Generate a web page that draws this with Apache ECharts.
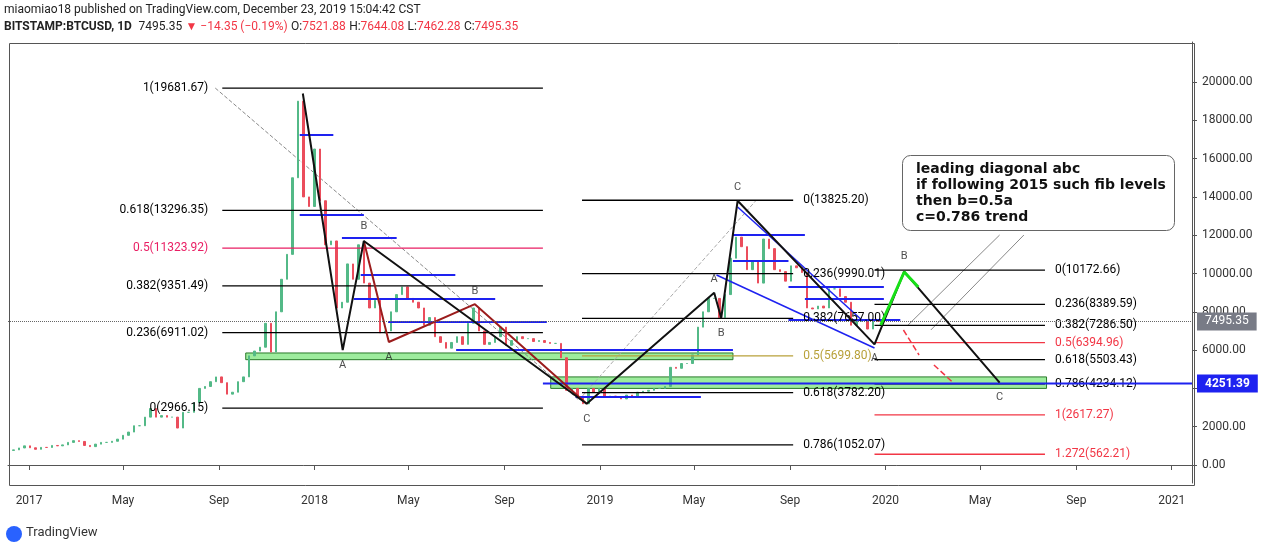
<!DOCTYPE html>
<html>
<head>
<meta charset="utf-8">
<script src="https://cdn.jsdelivr.net/npm/echarts@6/dist/echarts.min.js"></script>
<style>html,body{margin:0;padding:0;background:#fff}#chart{width:1265px;height:552px}</style>
</head>
<body>
<div id="chart"></div>
<script>
'use strict';

// weekly closes, first week 2016-12-05
var weekStart = '2016-12-05';
var weeklyClose = [760, 790, 890, 1000, 900, 820, 920, 915, 1020, 1000, 1050, 1180, 1270, 1230, 1020, 960,
	1090, 1180, 1180, 1240, 1350, 1550, 1720, 2050, 2050, 2500, 2950, 2500, 2580, 2500, 2500, 1930, 2750, 2750,
	3250, 4000, 4100, 4350, 4600, 4300, 3700, 3800, 4350, 4600, 5700, 5950, 6150, 7400, 5900, 8000, 9700, 11000,
	15000, 19000, 14000, 13500, 16500, 13800, 11500, 11700, 8200, 8500, 10500, 9700, 11500, 9500, 8200, 8600,
	6900, 7000, 8000, 8900, 9300, 8700, 8500, 8200, 7300, 7700, 6700, 6400, 6100, 6400, 6700, 6300, 7400, 8200,
	7000, 6300, 6400, 6700, 7200, 6250, 6500, 6700, 6600, 6600, 6450, 6500, 6400, 6350, 6350, 5600, 3900, 4000,
	3600, 3200, 4000, 3800, 4000, 3550, 3600, 3550, 3450, 3650, 3600, 3800, 3850, 3900, 4000, 4000, 4100, 5100,
	5050, 5300, 5300, 5750, 7200, 8000, 8700, 8700, 7700, 8900, 10800, 11900, 11400, 10200, 10600, 9500, 11800,
	11300, 10200, 10100, 9600, 10400, 10300, 10050, 8200, 8150, 8300, 8200, 9200, 9200, 8800, 8500, 7300, 7500,
	7500, 7100, 7500, 7495];

var yTicks = [0, 2000, 4000, 6000, 8000, 10000, 12000, 14000, 16000, 18000, 20000];
var xTickDates = ['2017-01-01', '2017-05-01', '2017-09-01', '2018-01-01', '2018-05-01', '2018-09-01',
	'2019-01-01', '2019-05-01', '2019-09-01', '2020-01-01', '2020-05-01', '2020-09-01', '2021-01-01'];

// fib sets: [label, price]
var fibLeft = [['1', 19681.67], ['0.618', 13296.35], ['0.5', 11323.92], ['0.382', 9351.49], ['0.236', 6911.02], ['0', 2966.15]];
var fibLeftSpan = ['2017-09-05', '2018-10-20'];
var fibMid = [['0', 13825.20], ['0.236', 9990.01], ['0.382', 7657.00], ['0.5', 5699.80], ['0.618', 3782.20], ['0.786', 1052.07]];
var fibMidSpan = ['2018-12-09', '2019-09-05'];
var fibRight = [['0', 10172.66], ['0.236', 8389.59], ['0.382', 7286.50], ['0.5', 6394.96], ['0.618', 5503.43],
	['0.786', 4234.12], ['1', 2617.27], ['1.272', 562.21]];
var fibRightSpan = ['2019-12-18', '2020-07-23'];

var wavePath = [['2017-12-17', 19400], ['2018-02-06', 6000], ['2018-03-05', 11700], ['2018-12-15', 3200],
	['2019-05-27', 9000], ['2019-06-05', 7676], ['2019-06-26', 13800], ['2019-12-18', 6300],
	['2020-01-25', 10100], ['2020-05-26', 4300]];
var redPath = [['2018-03-05', 11700], ['2018-04-06', 6423], ['2018-07-25', 8400], ['2018-12-15', 3200]];
var greenPath = [['2019-12-26', 7311], ['2020-01-25', 10078], ['2020-02-12', 9300]];
var redArrow1 = [['2020-01-24', 7050], ['2020-02-13', 5744]];
var redArrow2 = [['2020-03-03', 5222], ['2020-03-28', 4282]];
var dashed1 = [['2017-08-27', 19686], ['2018-12-05', 3394]];
var dashed2 = [['2018-12-05', 3394], ['2019-07-20', 13838]];
var pointers = [[['2020-05-26', 12010], ['2020-01-30', 7311]], [['2020-06-26', 12010], ['2020-02-28', 7050]]];
var channel = [[['2019-05-30', 9922], ['2019-12-18', 6110]], [['2019-06-26', 13473], ['2019-12-01', 7600]]];
var blueLevels = [['2017-12-13', '2018-01-25', 17232], ['2017-12-13', '2018-03-05', 13055], ['2018-02-05', '2018-04-16', 11854],
	['2018-03-01', '2018-06-30', 9922], ['2018-02-20', '2018-08-20', 8668], ['2018-04-05', '2018-10-25', 7467],
	['2018-07-01', '2019-06-20', 6005], ['2018-12-01', '2019-05-10', 3551], ['2019-06-20', '2019-09-20', 12010],
	['2019-06-20', '2019-08-30', 10653], ['2019-08-30', '2019-12-30', 9295], ['2019-09-20', '2019-12-30', 8668],
	['2019-08-30', '2020-01-20', 7572]];
var greenBoxes = [['2017-10-05', '2019-06-20', 5500, 5850], ['2018-10-30', '2020-07-25', 4000, 4600]];
var waveLabels = [['C', '2019-06-26', 14500], ['B', '2018-03-05', 12480], ['A', '2018-02-06', 5222], ['A', '2018-04-06', 5650],
	['B', '2018-07-25', 9050], ['C', '2018-12-15', 2400], ['A', '2019-05-27', 9700], ['B', '2019-06-05', 6900],
	['B', '2020-01-25', 10900], ['A', '2019-12-18', 5600], ['C', '2020-05-26', 3550]];
var lastPrice = 7495.35;
var bluePrice = 4251.39;

function ts(s) { return +new Date(s + 'T00:00:00Z'); }
function addDays(s, n) { return ts(s) + n * 86400000; }
function pts(arr) { return arr.map(function (p) { return [ts(p[0]), p[1]]; }); }

var candles = [];
for (var i = 1; i < weeklyClose.length; i++) {
	var o = weeklyClose[i - 1], c = weeklyClose[i];
	candles.push([addDays(weekStart, i * 7), o, c, Math.min(o, c), Math.max(o, c)]);
}

var series = [];
series.push({
	type: 'candlestick', data: candles, barMaxWidth: 2, barMinWidth: 2,
	itemStyle: { color: '#53b987', color0: '#eb4d5c', borderColor: '#53b987', borderColor0: '#eb4d5c', borderWidth: 1 },
	markArea: {
		silent: true,
		itemStyle: { color: 'rgba(76,220,76,0.55)', borderColor: '#2a7a2a', borderWidth: 1 },
		data: greenBoxes.map(function (b) { return [{ coord: [ts(b[0]), b[2]] }, { coord: [ts(b[1]), b[3]] }]; })
	},
	markLine: {
		silent: true, symbol: 'none',
		data: [
			{ yAxis: lastPrice, lineStyle: { color: '#666', type: 'dotted', width: 1 },
				label: { position: 'end', formatter: '7495.35', backgroundColor: '#787b86', color: '#fff', padding: [3, 8], fontSize: 12 } },
			{ yAxis: bluePrice, lineStyle: { color: 'rgba(0,0,0,0)', width: 1 },
				label: { position: 'end', formatter: '4251.39', backgroundColor: '#1e22f0', color: '#fff', padding: [3, 8], fontSize: 12, fontWeight: 'bold' } }
		]
	}
});

function line(data, color, width, type, z) {
	series.push({ type: 'line', data: pts(data), symbol: 'none', silent: true, z: z || 3,
		lineStyle: { color: color, width: width, type: type || 'solid' } });
}

function fibSet(levels, span, side, colors) {
	levels.forEach(function (lv) {
		var col = colors[lv[0]] || '#000';
		var txt = lv[0] + '(' + lv[1].toFixed(2) + ')';
		var pt = side === 'left' ? 0 : 1;
		var d = [[ts(span[0]), lv[1]], [ts(span[1]), lv[1]]];
		d[pt] = { value: d[pt], label: { show: true, position: side, distance: side === 'left' ? 14 : 10, formatter: txt, color: col, fontSize: 12 } };
		series.push({ type: 'line', data: d, symbol: 'circle', symbolSize: 0, showSymbol: true, silent: true, z: 3,
			itemStyle: { color: col }, lineStyle: { color: col, width: 1.3 } });
	});
}

fibSet(fibLeft, fibLeftSpan, 'left', { '0.5': '#e91e63' });
fibSet(fibMid, fibMidSpan, 'right', { '0.5': '#b8a13a' });
fibSet(fibRight, fibRightSpan, 'right', { '0.5': '#f23645', '1': '#f23645', '1.272': '#f23645' });

line([['2018-10-20', bluePrice], ['2021-01-27', bluePrice]], '#1e22f0', 2, 'solid', 4);
blueLevels.forEach(function (b) { line([[b[0], b[2]], [b[1], b[2]]], '#1e22f0', 2); });
channel.forEach(function (c) { line(c, '#1e22f0', 1.5); });
line(dashed1, '#888', 1, 'dashed', 2);
line(dashed2, '#aaa', 1, 'dashed', 2);
pointers.forEach(function (p) { line(p, '#888', 1, 'solid', 2); });
line(redPath, '#9b1c1c', 2, 'solid', 4);
line(wavePath, '#111', 2, 'solid', 5);
line(greenPath, '#18e018', 3, 'solid', 5);
line(redArrow1, '#f23645', 1.5, 'dashed', 5);
line(redArrow2, '#f23645', 1.5, 'dashed', 5);

series.push({
	type: 'scatter', symbolSize: 0, silent: true, z: 6,
	data: waveLabels.map(function (w) { return { name: w[0], value: [ts(w[1]), w[2]] }; }),
	label: { show: true, formatter: '{b}', color: '#222', fontSize: 11 }
});

var months = ['Jan', 'Feb', 'Mar', 'Apr', 'May', 'Jun', 'Jul', 'Aug', 'Sep', 'Oct', 'Nov', 'Dec'];
var xTicks = xTickDates.map(ts);

var chart = echarts.init(document.getElementById('chart'));
chart.setOption({
	animation: false,
	textStyle: { fontFamily: 'Roboto, "DejaVu Sans", sans-serif' },
	grid: { left: 8, right: 73, top: 42, bottom: 69 },
	xAxis: {
		type: 'value', min: ts('2016-12-05'), max: ts('2021-01-27'),
		axisLine: { lineStyle: { color: '#555' } },
		axisTick: { customValues: xTicks, lineStyle: { color: '#555' } },
		splitLine: { show: false },
		axisLabel: {
			customValues: xTicks,
			color: '#333', fontSize: 12, margin: 12,
			formatter: function (v) {
				var d = new Date(v);
				return d.getUTCMonth() === 0 ? String(d.getUTCFullYear()) : months[d.getUTCMonth()];
			}
		}
	},
	yAxis: {
		type: 'value', position: 'right', min: -940, max: 22090,
		axisLine: { show: true, lineStyle: { color: '#555' } },
		axisTick: { show: true, customValues: yTicks, lineStyle: { color: '#555' } },
		splitLine: { show: false },
		axisLabel: { customValues: yTicks, color: '#333', fontSize: 12, margin: 10,
			formatter: function (v) { return v.toFixed(2); } }
	},
	series: series,
	graphic: [
		{ type: 'rect', left: 7, top: 41, shape: { width: 1185, height: 442 }, style: { fill: 'none', stroke: '#555', lineWidth: 1 }, silent: true },
		{ type: 'text', left: 4, top: 4, style: { text: 'miaomiao18 published on TradingView.com, December 23, 2019 15:04:42 CST', fill: '#222', font: '12px Roboto, sans-serif' } },
		{ type: 'text', left: 4, top: 21, style: {
			text: '{b|BITSTAMP:BTCUSD, 1D}  {n|7495.35} {r|▼ −14.35 (−0.19%)} {n|O:}{r|7521.88} {n|H:}{r|7644.08} {n|L:}{r|7462.28} {n|C:}{r|7495.35}',
			rich: { b: { fill: '#222', font: 'bold 12px Roboto, sans-serif' }, n: { fill: '#222', font: '12px Roboto, sans-serif' }, r: { fill: '#f23645', font: '12px Roboto, sans-serif' } }
		} },
		{ type: 'rect', left: 902, top: 155, shape: { width: 272, height: 75, r: 8 }, style: { fill: '#fff', stroke: '#666', lineWidth: 1 }, z: 10 },
		{ type: 'text', left: 916, top: 161, z: 11, style: { text: 'leading diagonal abc\nif following 2015 such fib levels\nthen b=0.5a\nc=0.786 trend', fill: '#111', font: 'bold 14px "DejaVu Sans", sans-serif', lineHeight: 16 } },
		{ type: 'text', left: 26, top: 526, style: { text: 'TradingView', fill: '#333', font: '13px Roboto, sans-serif' } },
		{ type: 'circle', left: 6, top: 526, shape: { r: 8 }, style: { fill: '#2962ff' } }
	]
});
window.addEventListener('resize', function () {
	chart.resize();
});
</script>
</body>
</html>
